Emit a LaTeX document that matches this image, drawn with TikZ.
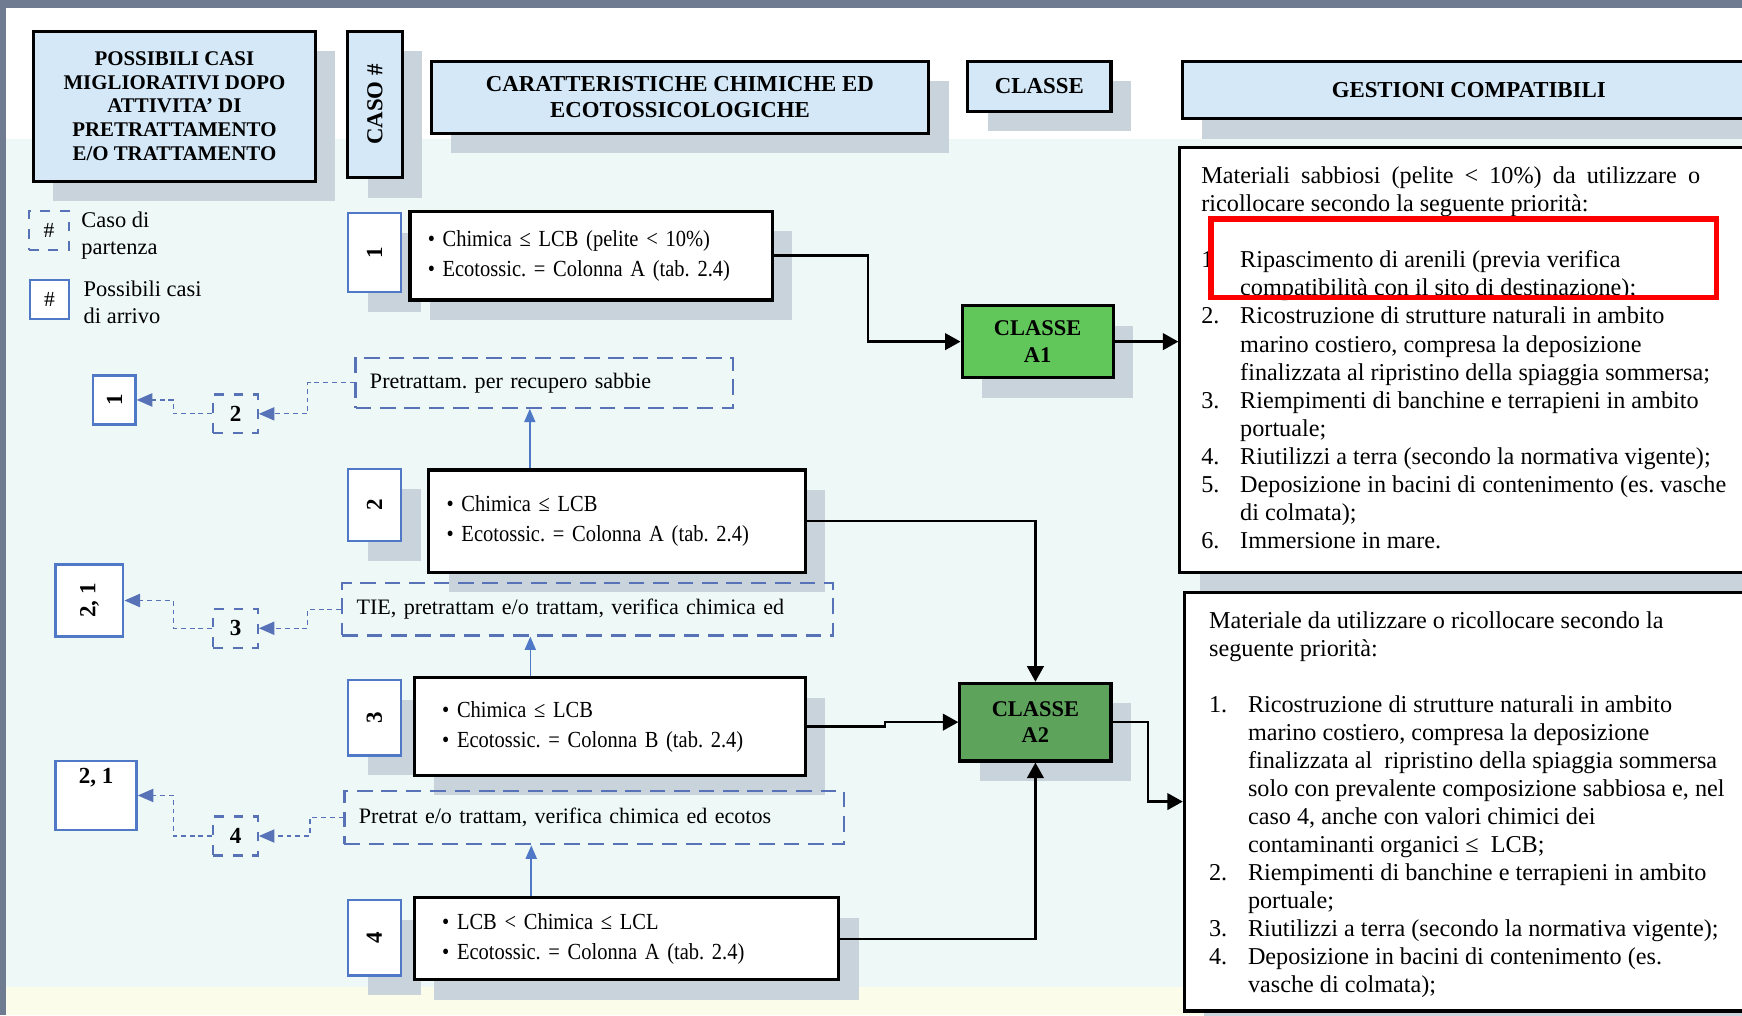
\documentclass[tikz,border=0pt]{standalone}
\usepackage{fontspec}
\setmainfont{Liberation Serif}
\newfontfamily\condensed{Liberation Serif}[FakeStretch=0.89]
\frenchspacing
\usepackage{tikz}
\usetikzlibrary{calc,arrows.meta,shadows}

\definecolor{framegrey}{HTML}{6F7B91}
\definecolor{palecyan}{HTML}{EEF9F7}
\definecolor{paleyellow}{HTML}{FCFCEA}
\definecolor{hdrblue}{HTML}{D4E8F7}
\definecolor{numblue}{HTML}{4F78C6}
\definecolor{dashblue}{HTML}{5872B8}
\definecolor{shadowgrey}{HTML}{C9D3DC}
\definecolor{greenA}{HTML}{62C75A}
\definecolor{greenB}{HTML}{5DA35C}

\newcommand{\gitem}[1]{\makebox[0.7cm][l]{#1}}
\newcommand{\gcont}{\hspace*{0.7cm}}

\tikzset{
    withshadow/.style={
    drop shadow={shadow xshift=0.36cm,shadow yshift=-0.36cm,fill=shadowgrey,opacity=1}
    },
    header/.style={
    rectangle,draw=black,line width=1.6pt,fill=hdrblue,withshadow,align=center,
    font=\fontsize{11.7}{13.6}\selectfont\bfseries
    },
    casenum/.style={
    rectangle,draw=numblue,line width=1.2pt,fill=white,withshadow,minimum width=0.96cm,
    font=\fontsize{11.8}{14}\selectfont\bfseries
    },
    casebox/.style={
    rectangle,draw=black,line width=1.6pt,fill=white,withshadow,align=left,inner xsep=0.32cm,
    font=\condensed\fontsize{11.8}{15.3}\selectfont
    },
    dcomponent/.style={
    rectangle,draw=dashblue,line width=1.1pt,dash pattern=on 8pt off 4.5pt,align=left,inner xsep=0.26cm,
    font=\fontsize{11.3}{14}\selectfont
    },
    arrival/.style={
    rectangle,draw=numblue,line width=1.2pt,fill=white,
    font=\fontsize{11.8}{14}\selectfont\bfseries
    },
    departure/.style={
    rectangle,draw=dashblue,line width=1.2pt,dash pattern=on 5pt off 5pt,minimum width=0.8cm,minimum height=0.7cm,
    font=\fontsize{11.8}{14}\selectfont\bfseries
    },
    legtxt/.style={
    anchor=west,align=left,inner sep=0pt,font=\fontsize{11.5}{13.6}\selectfont
    },
    classbox/.style={
    rectangle,draw=black,line width=1.6pt,withshadow,align=center,minimum width=2.72cm,
    font=\fontsize{11.5}{13.6}\selectfont\bfseries
    },
    gestbox/.style={
    rectangle,draw=black,line width=1.6pt,fill=white,withshadow
    },
    listtxt/.style={
    anchor=north west,align=left,inner sep=0pt,font=\fontsize{12.4}{14.36}\selectfont
    },
    connection/.style={
    draw=black,line width=1.2pt,-{Triangle[length=0.28cm,width=0.3cm]}
    },
    upconn/.style={
    draw=numblue,line width=0.8pt,-{Triangle[length=0.24cm,width=0.2cm]}
    },
    dconn/.style={
    draw=dashblue,line width=0.6pt,dash pattern=on 2.5pt off 2pt,-{Triangle[length=0.28cm,width=0.24cm]}
    },
    redmark/.style={
    draw=red,line width=2.8pt
    },
}

\begin{document}
\begin{tikzpicture}[x=0.02cm, y=-0.02cm]
   \clip (0,0) rectangle (1568,914);
   \fill[white] (0,0) rectangle (1568,914);
   \fill[palecyan] (5,125) rectangle (1568,888);
   \fill[paleyellow] (5,888) rectangle (1568,914);
   \fill[framegrey] (0,0) rectangle (1568,7);
   \fill[framegrey] (0,0) rectangle (5,914);

   % intestazioni
   \node[header, font=\fontsize{10.7}{12.2}\selectfont\bfseries, minimum width=5.08cm, minimum height=2.7cm] (POSS) at (157,95.5)
        {POSSIBILI CASI\\MIGLIORATIVI DOPO\\ATTIVITA’ DI\\PRETRATTAMENTO\\E/O TRATTAMENTO};
   \node[header, minimum width=0.98cm, minimum height=2.64cm] (CASO) at (337.5,94) {\rotatebox{90}{CASO \#}};
   \node[header, minimum width=8.96cm, minimum height=1.3cm] (CARATT) at (612,87.5)
        {CARATTERISTICHE CHIMICHE ED\\ECOTOSSICOLOGICHE};
   \node[header, minimum width=2.58cm, minimum height=0.9cm] (CLS) at (935.5,77.5) {CLASSE};
   \node[header, minimum width=10.32cm, minimum height=1.04cm] (GEST) at (1322,81) {GESTIONI COMPATIBILI};

   % legenda
   \node[departure, font=\fontsize{11}{13}\selectfont, minimum width=0.72cm] (LEG1) at (44,207.5) {\#};
   \node[legtxt] (LEG1TXT) at (73,212) {Caso di\\partenza};
   \node[arrival, font=\fontsize{11}{13}\selectfont, minimum width=0.7cm, minimum height=0.7cm] (LEG2) at (44.5,269.5) {\#};
   \node[legtxt] (LEG2TXT) at (75,272) {Possibili casi\\di arrivo};

   % casi
   \node[casenum, minimum height=1.42cm] (N1) at (337,227.5) {\rotatebox{90}{1}};
   \node[casenum, minimum height=1.3cm] (N2) at (337,454.5) {\rotatebox{90}{2}};
   \node[casenum, minimum height=1.36cm] (N3) at (337,646) {\rotatebox{90}{3}};
   \node[casenum, minimum height=1.36cm] (N4) at (337,844) {\rotatebox{90}{4}};

   \node[casebox, text width=5.88cm, minimum height=1.6cm] (C1) at (532,230)
        {• Chimica ≤ LCB (pelite < 10\%)\\• Ecotossic. = Colonna A (tab. 2.4)};
   \node[casebox, text width=6.14cm, minimum height=1.84cm] (C2) at (555.5,469)
        {• Chimica ≤ LCB\\• Ecotossic. = Colonna A (tab. 2.4)};
   \node[casebox, inner xsep=0.5cm, text width=6.04cm, minimum height=1.76cm] (C3) at (549,654)
        {• Chimica ≤ LCB\\• Ecotossic. = Colonna B (tab. 2.4)};
   \node[casebox, inner xsep=0.5cm, text width=6.64cm, minimum height=1.48cm] (C4) at (564,845)
        {• LCB < Chimica ≤ LCL\\• Ecotossic. = Colonna A (tab. 2.4)};

   \node[dcomponent, text width=6.28cm, minimum height=0.9cm] (PRE1) at (490,344.5) {Pretrattam. per recupero sabbie};
   \node[dcomponent, text width=8.32cm, minimum height=0.94cm] (PRE2) at (529,548.5) {TIE, pretrattam e/o trattam, verifica chimica ed};
   \node[dcomponent, text width=8.48cm, minimum height=0.96cm] (PRE3) at (535,736) {Pretrat e/o trattam, verifica chimica ed ecotos};

   \node[departure] (START2) at (212,372.5) {2};
   \node[departure] (START3) at (212,565.5) {3};
   \node[departure] (START4) at (212,752.5) {4};

   \node[arrival, minimum width=0.76cm, minimum height=0.88cm] (ARR1) at (103,360) {\rotatebox{90}{1}};
   \node[arrival, minimum width=1.22cm, minimum height=1.3cm] (ARR2) at (80.5,540.5) {\rotatebox{90}{2, 1}};
   \node[arrival, minimum width=1.46cm, minimum height=1.24cm, text depth=0.7cm] (ARR3) at (86.5,716) {2, 1};

   % classi
   \node[classbox, fill=greenA, minimum height=1.3cm] (A1) at (934,307.5) {CLASSE\\A1};
   \node[classbox, fill=greenB, minimum height=1.4cm] (A2) at (932,650) {CLASSE\\A2};

   % gestioni
   \node[gestbox, minimum width=10.36cm, minimum height=7.64cm] (GEST1) at (1321,324) {};
   \node[gestbox, minimum width=10.28cm, minimum height=7.54cm] (GEST2) at (1323,721.5) {};

   \node[listtxt] (GEST1TXT) at (1081,150) {%
     \makebox[8.98cm][s]{Materiali sabbiosi (pelite < 10\%) da utilizzare o}\\
     ricollocare secondo la seguente priorità:\\[14.36pt]
     \gitem{1}Ripascimento di arenili (previa verifica\\
     \gcont compatibilità con il sito di destinazione);\\
     \gitem{2.}Ricostruzione di strutture naturali in ambito\\
     \gcont marino costiero, compresa la deposizione\\
     \gcont finalizzata al ripristino della spiaggia sommersa;\\
     \gitem{3.}Riempimenti di banchine e terrapieni in ambito\\
     \gcont portuale;\\
     \gitem{4.}Riutilizzi a terra (secondo la normativa vigente);\\
     \gitem{5.}Deposizione in bacini di contenimento (es. vasche\\
     \gcont di colmata);\\
     \gitem{6.}Immersione in mare.};

   \node[listtxt] (GEST2TXT) at (1088,550) {%
     Materiale da utilizzare o ricollocare secondo la\\
     seguente priorità:\\[14.36pt]
     \gitem{1.}Ricostruzione di strutture naturali in ambito\\
     \gcont marino costiero, compresa la deposizione\\
     \gcont finalizzata al \ ripristino della spiaggia sommersa\\
     \gcont solo con prevalente composizione sabbiosa e, nel\\
     \gcont caso 4, anche con valori chimici dei\\
     \gcont contaminanti organici ≤ \ LCB;\\
     \gitem{2.}Riempimenti di banchine e terrapieni in ambito\\
     \gcont portuale;\\
     \gitem{3.}Riutilizzi a terra (secondo la normativa vigente);\\
     \gitem{4.}Deposizione in bacini di contenimento (es.\\
     \gcont vasche di colmata);};

   % collegamenti
   \draw[connection] (C1.east) -- ++(85,0) |- (A1.west);
   \draw[connection] (A1.east) -- (A1.east -| GEST1.west);
   \draw[connection] (C2.east) -| (A2.north);
   \draw[connection] (C3.east) -- ++(70,0) |- (A2.west);
   \draw[connection] (C4.east) -| (A2.south);
   \draw[connection] (A2.east) -- ++(32,0) |- (GEST2.west);

   \coordinate (U2) at ($(C2.north west)!0.27!(C2.north east)$);
   \coordinate (U3) at ($(C3.north west)!0.298!(C3.north east)$);
   \coordinate (U4) at ($(C4.north west)!0.277!(C4.north east)$);
   \draw[upconn] (U2) -- (U2 |- PRE1.south);
   \draw[upconn] (U3) -- (U3 |- PRE2.south);
   \draw[upconn] (U4) -- (U4 |- PRE3.south);

   \draw[dconn] (PRE1.west) -- ++(-42,0) |- (START2.east);
   \draw[dconn] (START2.west) -- ++(-35,0) |- (ARR1.east);
   \draw[dconn] (PRE2.west) -- ++(-30,0) |- (START3.east);
   \draw[dconn] (START3.west) -- ++(-35,0) |- (ARR2.east);
   \draw[dconn] (PRE3.west) -- ++(-30,0) |- (START4.east);
   \draw[dconn] (START4.west) -- ++(-35,0) |- (ARR3.east);

   \draw[redmark] (1090,197) rectangle (1545,268);
\end{tikzpicture}
\end{document}
